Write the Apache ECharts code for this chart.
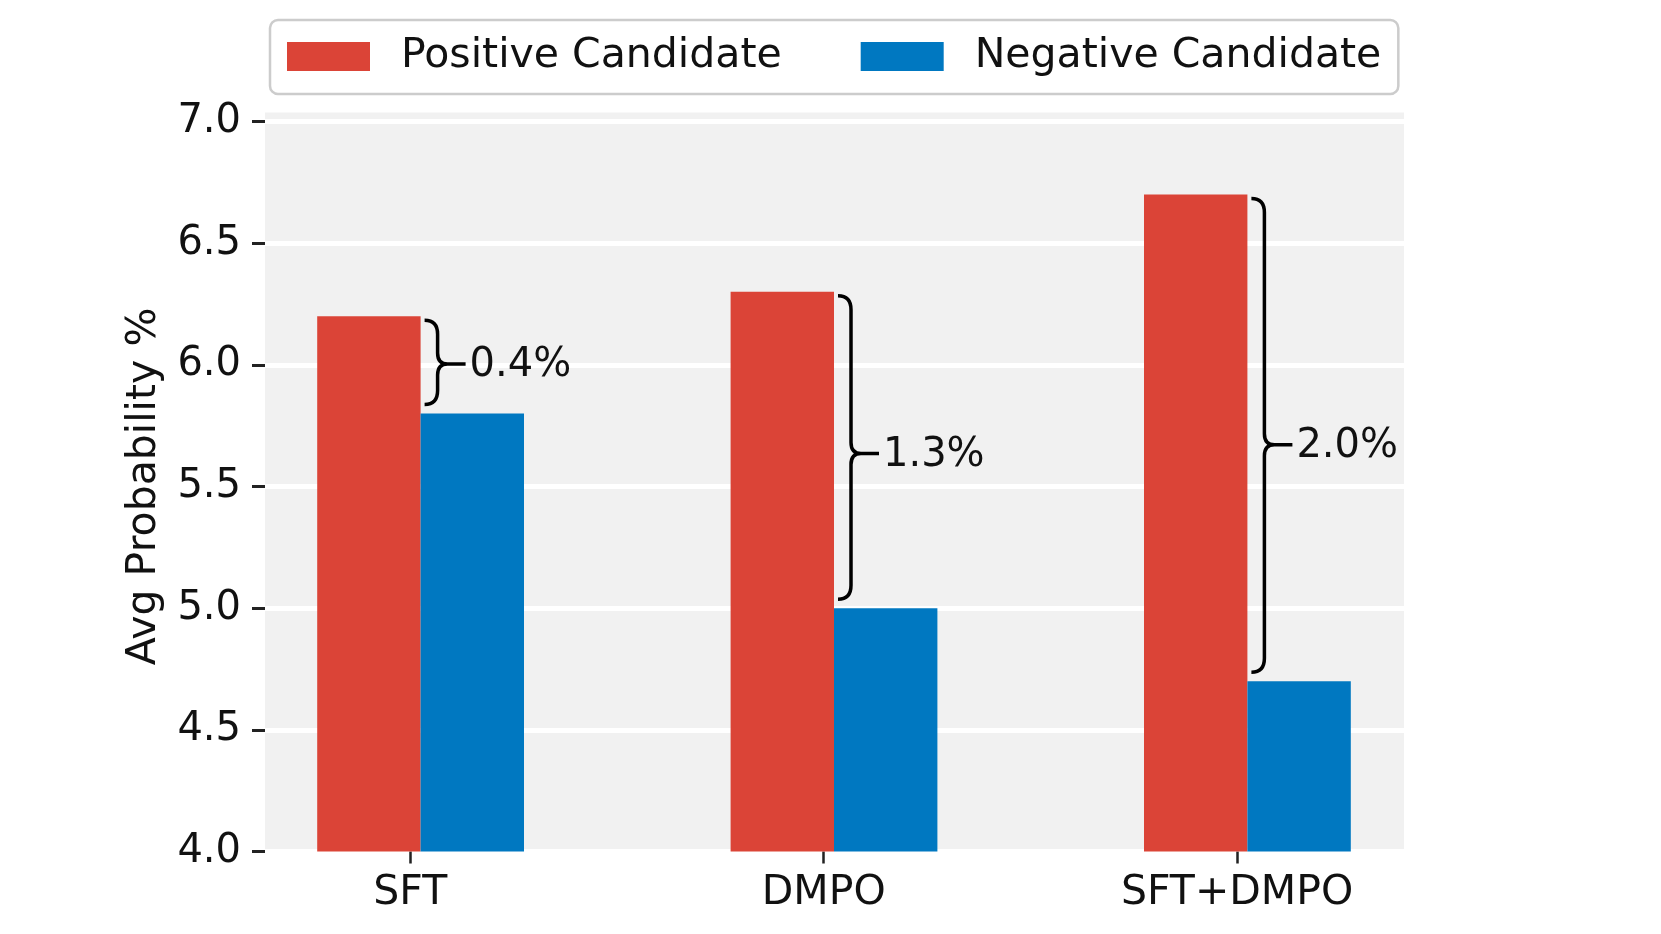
<!DOCTYPE html>
<html><head><meta charset="utf-8">
<script src="https://cdn.jsdelivr.net/npm/echarts@6/dist/echarts.min.js"></script>
<style>html,body{margin:0;padding:0;background:#fff}#c{width:1661px;height:934px}</style>
</head><body><div id="c"></div>
<script>
const categories = ['SFT', 'DMPO', 'SFT+DMPO'];
const positive = [6.2, 6.3, 6.7];
const negative = [5.8, 5.0, 4.7];
const gapLabels = ['0.4%', '1.3%', '2.0%'];
const seriesNames = ['Positive Candidate', 'Negative Candidate'];
const yMin = 4.0, yMax = 7.0, yStep = 0.5;

const FONT = 'DejaVu Sans';
const TXT = '#111111';
const RED = '#db4437';
const BLUE = '#0078c1';
const BG = '#f1f1f1';

const braceData = categories.map((c, i) => [i, positive[i], negative[i]]);

const chart = echarts.init(document.getElementById('c'), null, {renderer: 'canvas'});
chart.setOption({
  animation: false,
  backgroundColor: '#ffffff',
  legend: {
    data: seriesNames,
    left: 270, top: 20,
    icon: 'rect',
    itemWidth: 83, itemHeight: 29, itemGap: 79,
    padding: [16, 17, 17, 17],
    borderColor: '#cccccc', borderWidth: 2.5, borderRadius: 8,
    backgroundColor: '#ffffff',
    selectedMode: false,
    textStyle: {fontSize: 41, fontFamily: FONT, color: TXT, padding: [3, 0, 0, 26]}
  },
  grid: [
    {left: 265, width: 1139, top: 112.5, height: 739, show: true, backgroundColor: BG, borderWidth: 0},
    {left: 213.9, width: 1240.2, top: 121.5, height: 730},
    {left: 203.6, width: 1240.2, top: 121.5, height: 730}
  ],
  xAxis: [
    {gridIndex: 0, type: 'value', show: false, min: 0, max: 1},
    {gridIndex: 1, type: 'category', data: categories, show: false},
    {gridIndex: 2, type: 'category', data: categories,
      axisLine: {show: false},
      axisTick: {show: true, alignWithLabel: true, length: 12, lineStyle: {color: '#222', width: 2.5}},
      axisLabel: {fontSize: 41, fontFamily: FONT, color: TXT, margin: 21},
      splitLine: {show: false}}
  ],
  yAxis: [
    {gridIndex: 0, type: 'value', show: false, min: 0, max: 1},
    {gridIndex: 1, type: 'value', min: yMin, max: yMax, interval: yStep, offset: -51.1,
      axisLine: {show: false},
      axisTick: {show: true, length: 13, lineStyle: {color: '#222', width: 3}},
      axisLabel: {fontSize: 40, fontFamily: FONT, color: TXT, margin: 24, formatter: v => v.toFixed(1)},
      splitLine: {show: true, lineStyle: {color: '#ffffff', width: 5}},
      name: 'Avg Probability %', nameLocation: 'middle', nameGap: 100, nameRotate: 90,
      nameTextStyle: {fontSize: 41, fontFamily: FONT, color: TXT}},
    {gridIndex: 2, type: 'value', show: false, min: yMin, max: yMax}
  ],
  series: [
    {name: seriesNames[0], type: 'bar', xAxisIndex: 1, yAxisIndex: 1, data: positive,
      barWidth: 103.4, barGap: '0%', itemStyle: {color: RED}, z: 2},
    {name: seriesNames[1], type: 'bar', xAxisIndex: 1, yAxisIndex: 1, data: negative,
      barWidth: 103.4, barGap: '0%', itemStyle: {color: BLUE}, z: 2},
    {type: 'custom', xAxisIndex: 1, yAxisIndex: 1, data: braceData, z: 5, silent: true,
      renderItem: function (params, api) {
        const i = api.value(0);
        const top = api.coord([i, api.value(1)]);
        const bot = api.coord([i, api.value(2)]);
        const cx = top[0];
        const y0 = top[1] + 4, y1 = bot[1] - 9;
        const mid = y0 + (y1 - y0) * 0.52;
        const x0 = cx + 4, x1 = cx + 17, x2 = cx + 27, x3 = cx + 45;
        const r = Math.min(14, (y1 - y0) / 4);
        const rm = Math.min(11, (y1 - y0) / 4);
        const p = 'M' + x0 + ',' + y0 + ' Q' + x1 + ',' + y0 + ' ' + x1 + ',' + (y0 + r) +
          ' L' + x1 + ',' + (mid - rm) + ' Q' + x1 + ',' + mid + ' ' + x2 + ',' + mid +
          ' Q' + x1 + ',' + mid + ' ' + x1 + ',' + (mid + rm) +
          ' L' + x1 + ',' + (y1 - r) + ' Q' + x1 + ',' + y1 + ' ' + x0 + ',' + y1 +
          ' M' + x2 + ',' + mid + ' L' + x3 + ',' + mid;
        return {type: 'group', children: [
          {type: 'path', shape: {pathData: p}, style: {fill: 'none', stroke: '#000', lineWidth: 3.5}},
          {type: 'text', style: {text: gapLabels[params.dataIndex], x: cx + 49, y: mid + 2,
            fill: TXT, fontSize: 40, fontFamily: FONT, verticalAlign: 'middle', align: 'left'}}
        ]};
      }}
  ]
});
</script></body></html>
